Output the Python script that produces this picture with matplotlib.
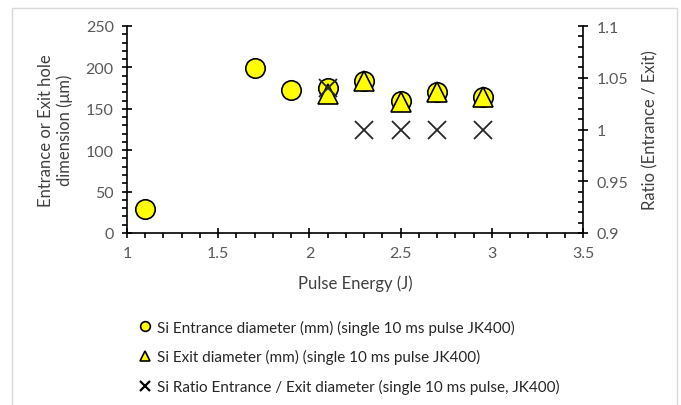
import matplotlib.pyplot as plt
import matplotlib.ticker as ticker
from matplotlib.lines import Line2D
from matplotlib.patches import Rectangle

plt.rcParams["font.family"] = ["Lato", "DejaVu Sans"]

# data
energy_entrance = [1.1, 1.7, 1.9, 2.1, 2.3, 2.5, 2.7, 2.95]
entrance_dia = [29, 199, 173, 175, 184, 160, 170, 164]
energy_exit = [2.1, 2.3, 2.5, 2.7, 2.95]
exit_dia = [168, 183, 158, 170, 164]
ratio = [1.04, 1.0, 1.0, 1.0, 1.0]

label_entr = "Si Entrance diameter (mm) (single 10 ms pulse JK400)"
label_exit = "Si Exit diameter (mm) (single 10 ms pulse JK400)"
label_ratio = "Si Ratio Entrance / Exit diameter (single 10 ms pulse, JK400)"

grey = "#595959"
yellow = "#FFFF00"

fig = plt.figure(figsize=(6.81, 4.06), dpi=100)
# outer chart border
fig.patches.append(Rectangle((12 / 681, -0.05), 665 / 681, 1.05 - 9 / 406,
                             transform=fig.transFigure, fill=False,
                             edgecolor="#d9d9d9", linewidth=1))

ax = fig.add_axes([127 / 681, 1 - 234 / 406, 456 / 681, 207 / 406])
ax2 = ax.twinx()

ax.plot(energy_entrance, entrance_dia, linestyle="none", marker="o",
        markersize=14, markerfacecolor=yellow, markeredgecolor="black",
        markeredgewidth=1.2, zorder=3)
ax.plot(energy_exit, exit_dia, linestyle="none", marker="^",
        markersize=15, markerfacecolor=yellow, markeredgecolor="black",
        markeredgewidth=1.2, zorder=4)
ax2.plot(energy_exit, ratio, linestyle="none", marker="x",
         markersize=13, markeredgecolor="#262626", markeredgewidth=1.3)

ax.set_xlim(1, 3.5)
ax.set_ylim(0, 250)
ax2.set_ylim(0.9, 1.1)

ax.xaxis.set_major_locator(ticker.MultipleLocator(0.5))
ax.xaxis.set_minor_locator(ticker.MultipleLocator(0.1))
ax.yaxis.set_major_locator(ticker.MultipleLocator(50))
ax.yaxis.set_minor_locator(ticker.MultipleLocator(10))
ax2.yaxis.set_major_locator(ticker.MultipleLocator(0.05))
ax2.yaxis.set_minor_locator(ticker.MultipleLocator(0.01))
ax.xaxis.set_major_formatter(ticker.FormatStrFormatter("%g"))
ax2.yaxis.set_major_formatter(ticker.FormatStrFormatter("%g"))

for a in (ax, ax2):
    a.spines["top"].set_visible(False)
    for s in ("left", "right", "bottom"):
        a.spines[s].set_color("black")
        a.spines[s].set_linewidth(1.2)
    a.tick_params(which="major", direction="inout", length=7, width=1.2,
                  labelsize=11.5, labelcolor=grey, color="black", pad=6)
    a.tick_params(which="minor", direction="out", length=3.5, width=1.2,
                  color="black")
ax.spines["right"].set_visible(False)
ax2.spines["left"].set_visible(False)
ax2.spines["bottom"].set_visible(False)
ax2.tick_params(axis="y", which="minor", direction="in")

ax.set_xlabel("Pulse Energy (J)", fontsize=12, color="#404040", labelpad=10)
ax.set_ylabel("Entrance or Exit hole\ndimension (\u03bcm)", fontsize=12,
              color="#404040", labelpad=9)
ax2.set_ylabel("Ratio (Entrance / Exit)", fontsize=12, color="#404040",
               labelpad=10)

handles = [
    Line2D([], [], linestyle="none", marker="o", markersize=7,
           markerfacecolor=yellow, markeredgecolor="black", markeredgewidth=1.2),
    Line2D([], [], linestyle="none", marker="^", markersize=7.5,
           markerfacecolor=yellow, markeredgecolor="black", markeredgewidth=1.2),
    Line2D([], [], linestyle="none", marker="x", markersize=7,
           markeredgecolor="black", markeredgewidth=1.6),
]
leg = fig.legend(handles, [label_entr, label_exit, label_ratio],
                 loc="upper left", bbox_to_anchor=(130 / 681, 1 - 313 / 406),
                 frameon=False, fontsize=11, handlelength=1.0,
                 handletextpad=0.25, labelspacing=0.95, borderpad=0)
for t in leg.get_texts():
    t.set_color("#262626")

fig.savefig("out.png", dpi=100)
